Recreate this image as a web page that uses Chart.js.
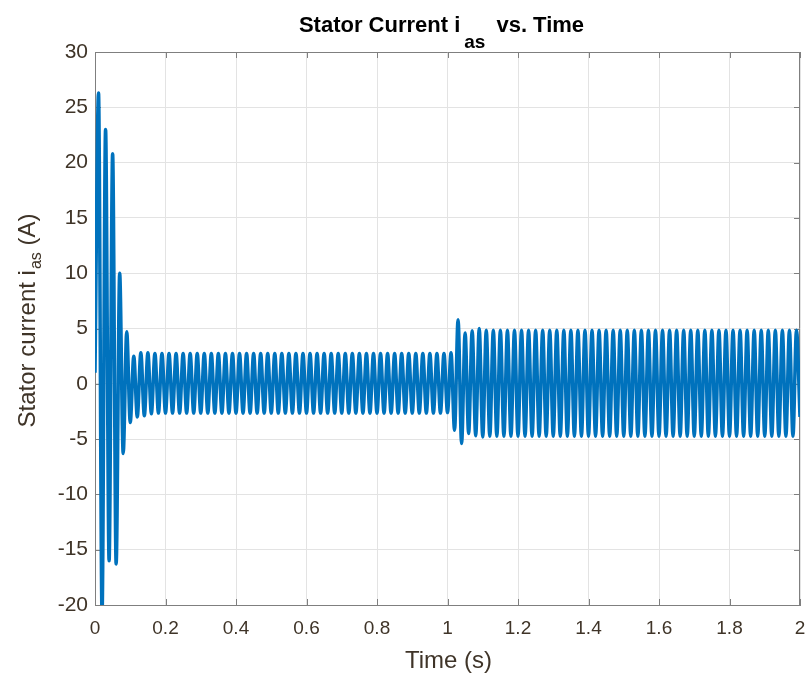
<!DOCTYPE html>
<html><head><meta charset="utf-8">
<script src="https://cdn.jsdelivr.net/npm/chart.js@4.4.1/dist/chart.umd.min.js"></script>
<style>
html,body{margin:0;padding:0;background:#fff;}
#wrap{position:relative;width:808px;height:675px;}
canvas{display:block;}
</style></head><body>
<div id="wrap"><canvas id="c" width="808" height="675"></canvas></div>
<script>
// Time stamps of the read extrema (s)
const timeS = [
0.00,0.01,0.02,0.03,0.04,0.05,0.06,0.07,0.08,0.09,
0.10,0.11,0.12,0.13,0.14,0.15,0.16,0.17,0.18,0.19,
0.20,0.21,0.22,0.23,0.24,0.25,0.26,0.27,0.28,0.29,
0.30,0.31,0.32,0.33,0.34,0.35,0.36,0.37,0.38,0.39,
0.40,0.41,0.42,0.43,0.44,0.45,0.46,0.47,0.48,0.49,
0.50,0.51,0.52,0.53,0.54,0.55,0.56,0.57,0.58,0.59,
0.60,0.61,0.62,0.63,0.64,0.65,0.66,0.67,0.68,0.69,
0.70,0.71,0.72,0.73,0.74,0.75,0.76,0.77,0.78,0.79,
0.80,0.81,0.82,0.83,0.84,0.85,0.86,0.87,0.88,0.89,
0.90,0.91,0.92,0.93,0.94,0.95,0.96,0.97,0.98,0.99,
1.00,1.01,1.02,1.03,1.04,1.05,1.06,1.07,1.08,1.09,
1.10,1.11,1.12,1.13,1.14,1.15,1.16,1.17,1.18,1.19,
1.20,1.21,1.22,1.23,1.24,1.25,1.26,1.27,1.28,1.29,
1.30,1.31,1.32,1.33,1.34,1.35,1.36,1.37,1.38,1.39,
1.40,1.41,1.42,1.43,1.44,1.45,1.46,1.47,1.48,1.49,
1.50,1.51,1.52,1.53,1.54,1.55,1.56,1.57,1.58,1.59,
1.60,1.61,1.62,1.63,1.64,1.65,1.66,1.67,1.68,1.69,
1.70,1.71,1.72,1.73,1.74,1.75,1.76,1.77,1.78,1.79,
1.80,1.81,1.82,1.83,1.84,1.85,1.86,1.87,1.88,1.89,
1.90,1.91,1.92,1.93,1.94,1.95,1.96,1.97,1.98,1.99,
2.00];

// Stator current i_as (A) at those instants (peaks / troughs)
const statorCurrentA = [
1.0,26.3,-20.8,23.0,-16.0,20.8,-16.3,10.0,-6.3,4.7,
-3.5,2.5,-3.0,2.8,-2.9,2.8,-2.7,2.75,-2.65,2.75,
-2.65,2.75,-2.65,2.75,-2.65,2.75,-2.65,2.75,-2.65,2.75,
-2.65,2.75,-2.65,2.75,-2.65,2.75,-2.65,2.75,-2.65,2.75,
-2.65,2.75,-2.65,2.75,-2.65,2.75,-2.65,2.75,-2.65,2.75,
-2.65,2.75,-2.65,2.75,-2.65,2.75,-2.65,2.75,-2.65,2.75,
-2.65,2.75,-2.65,2.75,-2.65,2.75,-2.65,2.75,-2.65,2.75,
-2.65,2.75,-2.65,2.75,-2.65,2.75,-2.65,2.75,-2.65,2.75,
-2.65,2.75,-2.65,2.75,-2.65,2.75,-2.65,2.75,-2.65,2.75,
-2.65,2.75,-2.65,2.75,-2.65,2.75,-2.65,2.75,-2.65,2.75,
-2.6,2.8,-4.2,5.8,-5.4,4.6,-4.5,4.8,-4.7,5.0,
-4.8,4.85,-4.75,4.85,-4.75,4.85,-4.75,4.85,-4.75,4.85,
-4.75,4.85,-4.75,4.85,-4.75,4.85,-4.75,4.85,-4.75,4.85,
-4.75,4.85,-4.75,4.85,-4.75,4.85,-4.75,4.85,-4.75,4.85,
-4.75,4.85,-4.75,4.85,-4.75,4.85,-4.75,4.85,-4.75,4.85,
-4.75,4.85,-4.75,4.85,-4.75,4.85,-4.75,4.85,-4.75,4.85,
-4.75,4.85,-4.75,4.85,-4.75,4.85,-4.75,4.85,-4.75,4.85,
-4.75,4.85,-4.75,4.85,-4.75,4.85,-4.75,4.85,-4.75,4.85,
-4.75,4.85,-4.75,4.85,-4.75,4.85,-4.75,4.85,-4.75,4.85,
-4.75,4.85,-4.75,4.85,-4.75,4.85,-4.75,4.85,-4.75,4.85,
-3.0];

const xTickValues = [0,0.2,0.4,0.6,0.8,1,1.2,1.4,1.6,1.8,2];
const xTickLabels = ['0','0.2','0.4','0.6','0.8','1','1.2','1.4','1.6','1.8','2'];
const yTickValues = [-20,-15,-10,-5,0,5,10,15,20,25,30];
const yTickLabels = ['-20','-15','-10','-5','0','5','10','15','20','25','30'];

const titleMain = 'Stator Current i';
const titleSub = 'as';
const titleTail = 'vs. Time';
const xTitle = 'Time (s)';
const yTitleMain = 'Stator current i';
const yTitleSub = 'as';
const yTitleTail = ' (A)';

const TXT = '#3f3428';
const AX = '#7f7f7f';
const GRID = '#e3e3e3';
const FAM = '"Liberation Sans", Arial, sans-serif';

const boxPlugin = {
  id: 'box',
  beforeDatasetsDraw(chart) {
    const {ctx, chartArea: a, scales: {x, y}} = chart;
    ctx.save();
    ctx.strokeStyle = AX; ctx.lineWidth = 1;
    ctx.beginPath();
    ctx.moveTo(a.left, a.top + 0.5); ctx.lineTo(a.right, a.top + 0.5);
    ctx.moveTo(a.right - 0.5, a.top); ctx.lineTo(a.right - 0.5, a.bottom);
    const L = 6;
    xTickValues.forEach(v => {
      const px = Math.round(x.getPixelForValue(v)) + 0.5;
      ctx.moveTo(px, a.bottom); ctx.lineTo(px, a.bottom - L);
      ctx.moveTo(px, a.top); ctx.lineTo(px, a.top + L);
    });
    yTickValues.forEach(v => {
      const py = Math.round(y.getPixelForValue(v)) + 0.5;
      ctx.moveTo(a.left, py); ctx.lineTo(a.left + L, py);
      ctx.moveTo(a.right, py); ctx.lineTo(a.right - L, py);
    });
    ctx.stroke();
    ctx.restore();
  }
};

const titlesPlugin = {
  id: 'titles',
  afterDraw(chart) {
    const {ctx, chartArea: a} = chart;
    const cx = (a.left + a.right) / 2;
    ctx.save();
    // Main title with subscript
    const fB = 'bold 22px ' + FAM, fS = 'bold 19px ' + FAM;
    ctx.font = fB; const w1 = ctx.measureText(titleMain).width; const w3 = ctx.measureText(titleTail).width;
    ctx.font = fS; const w2 = ctx.measureText(titleSub).width;
    const g1 = 4, g2 = 11;
    let tx = cx - 6 - (w1 + g1 + w2 + g2 + w3) / 2;
    const base = a.top - 20;
    ctx.fillStyle = '#000'; ctx.textAlign = 'left'; ctx.textBaseline = 'alphabetic';
    ctx.font = fB; ctx.fillText(titleMain, tx, base); tx += w1 + g1;
    ctx.font = fS; ctx.fillText(titleSub, tx, base + 16); tx += w2 + g2;
    ctx.font = fB; ctx.fillText(titleTail, tx, base);
    // X title
    ctx.fillStyle = TXT; ctx.textAlign = 'center'; ctx.textBaseline = 'middle';
    ctx.font = '24px ' + FAM;
    ctx.fillText(xTitle, cx + 1, a.bottom + 56);
    // Y title rotated with subscript
    const fM = '24px ' + FAM, fSub = '16px ' + FAM;
    ctx.font = fM; const y1 = ctx.measureText(yTitleMain).width; const y3 = ctx.measureText(yTitleTail).width;
    ctx.font = fSub; const y2 = ctx.measureText(yTitleSub).width;
    const tot = y1 + 1 + y2 + y3;
    ctx.translate(a.left - 60, (a.top + a.bottom) / 2 - 8);
    ctx.rotate(-Math.PI / 2);
    ctx.textAlign = 'left'; ctx.textBaseline = 'alphabetic';
    let sx = -tot / 2;
    ctx.font = fM; ctx.fillText(yTitleMain, sx, 0); sx += y1 + 1;
    ctx.font = fSub; ctx.fillText(yTitleSub, sx, 6); sx += y2;
    ctx.font = fM; ctx.fillText(yTitleTail, sx, 0);
    ctx.restore();
  }
};

const points = timeS.map((t, i) => ({x: t, y: statorCurrentA[i]}));

new Chart(document.getElementById('c').getContext('2d'), {
  type: 'line',
  data: {
    datasets: [{
      data: points,
      borderColor: '#0072BD',
      borderWidth: 3.5,
      pointRadius: 0,
      cubicInterpolationMode: 'monotone',
      fill: false,
      clip: 0
    }]
  },
  options: {
    responsive: false,
    animation: false,
    devicePixelRatio: 1,
    layout: {padding: {top: 52, right: 8, left: 0, bottom: 0}},
    plugins: {legend: {display: false}, tooltip: {enabled: false}, title: {display: false}},
    scales: {
      x: {
        type: 'linear', min: 0, max: 2,
        afterBuildTicks: s => { s.ticks = xTickValues.map(v => ({value: v})); },
        afterFit: s => { s.height = 70; s.paddingLeft = 0; s.paddingRight = 0; },
        ticks: {
          callback: (v, i) => xTickLabels[i],
          font: {family: FAM, size: 19}, color: TXT, padding: 12,
          maxRotation: 0, autoSkip: false
        },
        grid: {color: GRID, drawTicks: false, lineWidth: 1},
        border: {color: AX, width: 1}
      },
      y: {
        type: 'linear', min: -20, max: 30,
        afterBuildTicks: s => { s.ticks = yTickValues.map(v => ({value: v})); },
        afterFit: s => { s.width = 95; s.paddingTop = 0; s.paddingBottom = 0; },
        ticks: {
          callback: (v, i) => yTickLabels[i],
          font: {family: FAM, size: 21}, color: TXT, padding: 7, autoSkip: false
        },
        grid: {color: GRID, drawTicks: false, lineWidth: 1},
        border: {color: AX, width: 1}
      }
    }
  },
  plugins: [boxPlugin, titlesPlugin]
});
</script>
</body></html>
